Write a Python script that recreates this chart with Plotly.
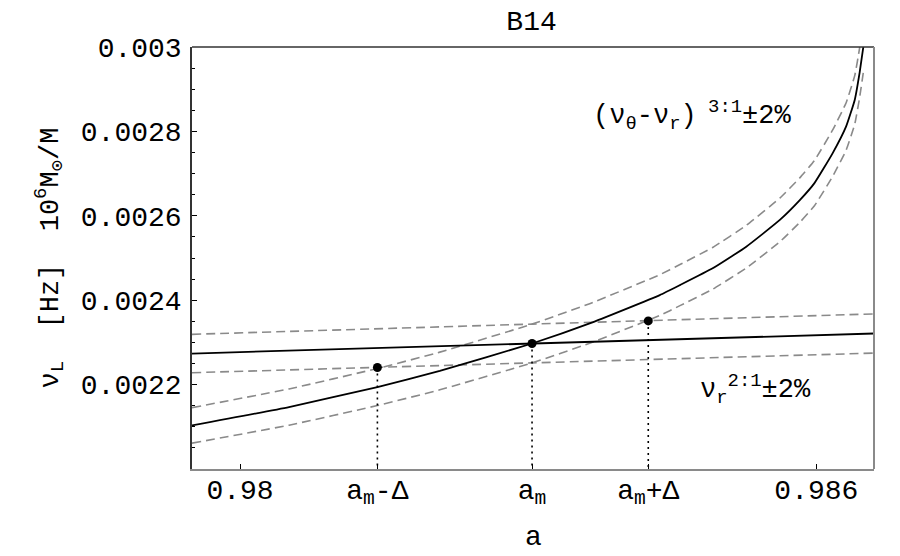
import plotly.graph_objects as go

# ---- data ----
# (nu_theta - nu_r)^{3:1} curve
a_31 = [0.97950, 0.98051, 0.98143, 0.98208, 0.98304, 0.98364, 0.98437, 0.98458,
        0.98492, 0.98527, 0.98562, 0.98583, 0.98598, 0.98617, 0.98631, 0.98640,
        0.98645, 0.98649]
nu_31 = [0.0021033, 0.0021468, 0.0021943, 0.0022323, 0.0022974, 0.0023449, 0.0024121, 0.0024358,
         0.0024755, 0.0025268, 0.0025902, 0.0026377, 0.0026774, 0.0027486, 0.0028118, 0.0028752,
         0.0029386, 0.0030018]
# nu_r^{2:1} line
a_21 = [0.97950, 0.98304, 0.98660]
nu_21 = [0.0022736, 0.0022974, 0.0023211]
band = 0.02  # +-2 %

# marked points
pt_a = [0.98143, 0.98304, 0.98425]
pt_nu = [0.0022404, 0.0022974, 0.0023510]
pt_labels = ["a<sub>m</sub>-Δ", "a<sub>m</sub>", "a<sub>m</sub>+Δ"]

x_ticks = [0.98, 0.986]
x_ticktext = ["0.98", "0.986"]
y_ticks = [0.0022, 0.0024, 0.0026, 0.0028, 0.003]
y_ticktext = ["0.0022", "0.0024", "0.0026", "0.0028", "0.003"]

FONT = "Liberation Mono, Courier New, monospace"
GRAY = "#8a8a8a"

fig = go.Figure()

def dashed(xs, ys):
    fig.add_trace(go.Scatter(x=xs, y=ys, mode="lines",
                             line=dict(color=GRAY, width=1.6, dash="9px,5px", shape="spline", smoothing=0.4),
                             hoverinfo="skip", showlegend=False))

for f in (1 + band, 1 - band):
    dashed(a_31, [v * f for v in nu_31])
    dashed(a_21, [v * f for v in nu_21])

fig.add_trace(go.Scatter(x=a_31, y=nu_31, mode="lines",
                         line=dict(color="black", width=1.8, shape="spline", smoothing=0.4),
                         showlegend=False))
fig.add_trace(go.Scatter(x=a_21, y=nu_21, mode="lines", line=dict(color="black", width=1.8),
                         showlegend=False))

# dotted droplines
for xa, yv in zip(pt_a, pt_nu):
    fig.add_trace(go.Scatter(x=[xa, xa], y=[yv, 0.002], mode="lines",
                             line=dict(color="black", width=1.6, dash="2px,4px"),
                             showlegend=False, hoverinfo="skip"))

fig.add_trace(go.Scatter(x=pt_a, y=pt_nu, mode="markers",
                         marker=dict(color="black", size=9), showlegend=False))

fig.update_layout(
    width=900, height=556,
    margin=dict(l=192, r=26, t=47, b=87),
    plot_bgcolor="white", paper_bgcolor="white",
    font=dict(family=FONT, size=28, color="black"),
    title=dict(text="B14", x=0.5906, xanchor="center", y=0.963, yanchor="middle",
               font=dict(family=FONT, size=28, color="black")),
    xaxis=dict(range=[0.9795, 0.9866], tickvals=x_ticks + pt_a,
               ticktext=x_ticktext + pt_labels,
               ticks="inside", ticklen=5, tickwidth=1, tickcolor="black",
               showline=True, linecolor=GRAY, linewidth=2, showgrid=False, zeroline=False,
               tickfont=dict(family=FONT, size=28), ticklabelstandoff=-6),
    yaxis=dict(range=[0.002, 0.003], tickvals=y_ticks, ticktext=y_ticktext,
               ticks="inside", ticklen=5, tickwidth=1, tickcolor="black",
               minor=dict(dtick=0.00005, ticks="inside", ticklen=3, tickcolor="black"),
               showline=True, linecolor="#333333", linewidth=1.5, showgrid=False, zeroline=False,
               tickfont=dict(family=FONT, size=28), ticklabelstandoff=3),
    shapes=[
        dict(type="line", xref="paper", yref="paper", x0=0, x1=1, y0=1, y1=1,
             line=dict(color="#333333", width=1.5)),
        dict(type="line", xref="paper", yref="paper", x0=1, x1=1, y0=0, y1=1,
             line=dict(color=GRAY, width=2)),
    ],
    annotations=[
        dict(x=0.98471, y=0.002838, xref="x", yref="y", showarrow=False,
             text="(ν<sub>θ</sub>-ν<sub>r</sub>)<sup>\u00a03:1</sup>±2%",
             font=dict(family=FONT, size=27, color="black")),
        dict(x=0.98537, y=0.002188, xref="x", yref="y", showarrow=False,
             text="ν<sub>r</sub><sup>2:1</sup>±2%",
             font=dict(family=FONT, size=27, color="black")),
        # axis titles
        dict(x=0.5, y=-0.163, xref="paper", yref="paper", showarrow=False,
             xanchor="center", yanchor="middle", text="a",
             font=dict(family=FONT, size=28, color="black")),
        dict(x=-0.209, y=0.5, xref="paper", yref="paper", showarrow=False,
             xanchor="center", yanchor="middle", textangle=-90,
             text="ν<sub>L</sub>\u00a0\u00a0[Hz]\u00a0\u00a010<sup>6</sup>M<sub>⊙</sub>/M",
             font=dict(family=FONT, size=27, color="black")),
    ],
)

fig.write_html("out.html", config={"displayModeBar": False},
               post_script="document.body.style.margin='0';")
